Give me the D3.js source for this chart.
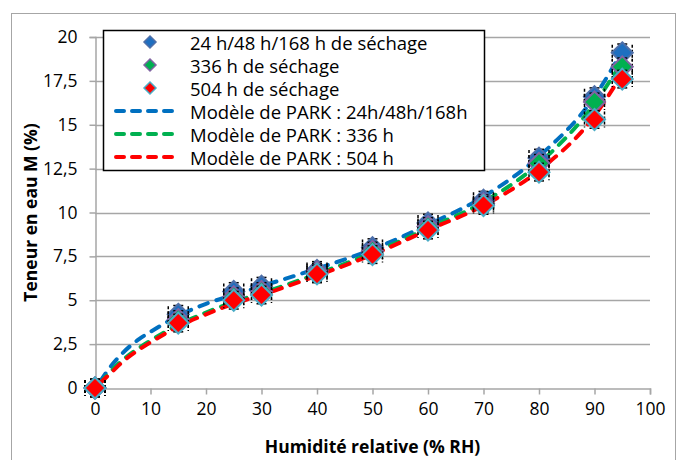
<!DOCTYPE html>
<html>
<head>
<meta charset="utf-8">
<script src="https://cdn.jsdelivr.net/npm/d3@7"></script>
<style>
	body { margin: 0; background: #fff; }
	text { font-family: "Open Sans", "Noto Sans", sans-serif; fill: #000; }
</style>
</head>
<body>
<svg id="chart" width="680" height="460"></svg>
<script>
// mesures (humidité relative / teneur en eau)
const rh = [0, 15, 25, 30, 40, 50, 60, 70, 80, 90, 95];
const m24 = [0, 4.2, 5.5, 5.8, 6.7, 8.0, 9.4, 10.7, 13.1, 16.6, 19.1];
const m336 = [0, 3.9, 5.2, 5.5, 6.6, 7.8, 9.2, 10.5, 12.8, 16.3, 18.3];
const m504 = [0, 3.7, 5.0, 5.3, 6.5, 7.6, 9.0, 10.4, 12.3, 15.3, 17.6];
const errM = 0.5;
const errRH = 1.8;

// courbes du modèle de PARK
const rhModel = [1, 3, 5, 8, 10, 15, 20, 25, 30, 40, 50, 60, 70, 80, 90, 95];
const park24 = [0.4, 1.3, 2.0, 2.8, 3.2, 4.1, 4.8, 5.3, 5.8, 6.8, 7.9, 9.3, 10.9, 13.2, 16.6, 19.2];
const park336 = [0.3, 1.0, 1.6, 2.3, 2.7, 3.6, 4.3, 4.9, 5.4, 6.5, 7.7, 9.1, 10.6, 12.8, 16.2, 18.6];
const park504 = [0.3, 0.9, 1.5, 2.2, 2.6, 3.5, 4.2, 4.8, 5.3, 6.4, 7.6, 9.0, 10.4, 12.4, 15.5, 17.9];

const xTicks = [0, 10, 20, 30, 40, 50, 60, 70, 80, 90, 100];
const yTicks = [0, 2.5, 5, 7.5, 10, 12.5, 15, 17.5, 20];

const svg = d3.select("svg#chart");
const margin = { top: 37, right: 25, bottom: 72, left: 95 };
const width = 680;
const height = 460;

// cadre extérieur
svg.append("rect")
	.attr("x", 11.5)
	.attr("y", 13.5)
	.attr("width", 664)
	.attr("height", 450)
	.attr("fill", "#fff")
	.attr("stroke", "#a6a6a6")
	.attr("stroke-width", 1);

const x = d3.scaleLinear().domain([0, 100]).range([margin.left, width - margin.right - 5]);
const y = d3.scaleLinear().domain([0, 20]).range([height - margin.bottom, margin.top]);

// grille horizontale
svg.append("g")
	.selectAll("line")
	.data(yTicks.slice(1))
	.join("line")
	.attr("x1", x(0))
	.attr("x2", x(100))
	.attr("y1", (d) => Math.round(y(d)) + 0.5)
	.attr("y2", (d) => Math.round(y(d)) + 0.5)
	.style("stroke", "#a6a6a6")
	.style("stroke-width", 1.5);

// axe X
const xAxis = svg.append("g")
	.attr("transform", `translate(0,${Math.round(y(0)) + 0.5})`)
	.call(d3.axisBottom(x).tickValues(xTicks).tickSize(6).tickPadding(8).tickFormat(d3.format("d")));
xAxis.select(".domain").attr("stroke", "#a6a6a6").attr("stroke-width", 1.5);
xAxis.selectAll(".tick line").attr("stroke", "#a6a6a6").attr("stroke-width", 1.5);
xAxis.selectAll("text").style("font-size", "17.5px");

// axe Y
const yAxis = svg.append("g")
	.attr("transform", `translate(${Math.round(x(0)) + 0.5},0)`)
	.call(d3.axisLeft(y).tickValues(yTicks).tickSize(6).tickPadding(12)
		.tickFormat((d) => String(d).replace(".", ",")));
yAxis.select(".domain").attr("stroke", "#a6a6a6").attr("stroke-width", 1.5);
yAxis.selectAll(".tick line").attr("stroke", "#a6a6a6").attr("stroke-width", 1.5);
yAxis.selectAll("text").style("font-size", "17.5px");

// titres des axes
svg.append("text")
	.attr("x", x(50))
	.attr("y", 453)
	.attr("text-anchor", "middle")
	.style("font-size", "17.5px")
	.style("font-weight", "bold")
	.text("Humidité relative (% RH)");

svg.append("text")
	.attr("transform", `translate(37,${y(10)}) rotate(-90)`)
	.attr("text-anchor", "middle")
	.style("font-size", "17.5px")
	.style("font-weight", "bold")
	.text("Teneur en eau M (%)");

// courbes du modèle
const line = d3.line()
	.x((d) => x(d[0]))
	.y((d) => y(d[1]))
	.curve(d3.curveMonotoneX);

const models = [
	{ vals: park24, color: "#0070c0" },
	{ vals: park336, color: "#00b050" },
	{ vals: park504, color: "#ff0000" },
];
models.forEach(function (mod) {
	svg.append("path")
		.attr("d", line(rhModel.map((r, i) => [r, mod.vals[i]])))
		.attr("fill", "none")
		.style("stroke", mod.color)
		.style("stroke-width", 4)
		.style("stroke-linecap", "round")
		.style("stroke-dasharray", "9,9");
});

// points de mesure + barres d'erreur
const series = [
	{ vals: m24, fill: "#1f6fc0", stroke: "#4f6fa8" },
	{ vals: m336, fill: "#00b050", stroke: "#8064a2" },
	{ vals: m504, fill: "#ff0000", stroke: "#4bacc6" },
];
const diamond = (cx, cy, r) => `M${cx},${cy - r}L${cx + r},${cy}L${cx},${cy + r}L${cx - r},${cy}Z`;

series.forEach(function (s) {
	const g = svg.append("g");
	rh.forEach(function (r, i) {
		const cx = x(r);
		const cy = y(s.vals[i]);
		const y1 = y(s.vals[i] + errM);
		const y2 = y(s.vals[i] - errM);
		const x1 = x(r - errRH);
		const x2 = x(r + errRH);
		g.append("line").attr("x1", cx).attr("x2", cx).attr("y1", y1).attr("y2", y2)
			.style("stroke", "#000").style("stroke-width", 1.5);
		g.append("line").attr("x1", cx - 5).attr("x2", cx + 5).attr("y1", y1).attr("y2", y1)
			.style("stroke", "#000").style("stroke-width", 1.5);
		g.append("line").attr("x1", cx - 5).attr("x2", cx + 5).attr("y1", y2).attr("y2", y2)
			.style("stroke", "#000").style("stroke-width", 1.5);
		g.append("line").attr("x1", x1).attr("x2", x2).attr("y1", cy).attr("y2", cy)
			.style("stroke", "#000").style("stroke-width", 1.5);
		g.append("line").attr("x1", x1).attr("x2", x1).attr("y1", cy - 8).attr("y2", cy + 8)
			.style("stroke", "#000").style("stroke-width", 1.5).style("stroke-dasharray", "3,2");
		g.append("line").attr("x1", x2).attr("x2", x2).attr("y1", cy - 8).attr("y2", cy + 8)
			.style("stroke", "#000").style("stroke-width", 1.5).style("stroke-dasharray", "3,2");
	});
	g.selectAll("path")
		.data(rh)
		.join("path")
		.attr("d", (r, i) => diamond(x(r), y(s.vals[i]), 10.5))
		.attr("fill", s.fill)
		.style("stroke", s.stroke)
		.style("stroke-width", 2);
});

// légende
const legendLabels = [
	"24 h/48 h/168 h de séchage",
	"336 h de séchage",
	"504 h de séchage",
	"Modèle de PARK : 24h/48h/168h",
	"Modèle de PARK : 336 h",
	"Modèle de PARK : 504 h",
];
const legend = svg.append("g").attr("id", "legend");
legend.append("rect")
	.attr("x", 103.5)
	.attr("y", 30.5)
	.attr("width", 381)
	.attr("height", 140)
	.attr("fill", "#fff")
	.style("stroke", "#000")
	.style("stroke-width", 1.5);

let yCounter = 42;
legendLabels.forEach(function (lab, i) {
	if (i < 3) {
		legend.append("path")
			.attr("d", diamond(150, yCounter, 6))
			.attr("fill", series[i].fill)
			.style("stroke", series[i].stroke)
			.style("stroke-width", 1.5);
	} else {
		legend.append("line")
			.attr("x1", 116)
			.attr("x2", 180)
			.attr("y1", yCounter)
			.attr("y2", yCounter)
			.style("stroke", models[i - 3].color)
			.style("stroke-width", 4)
			.style("stroke-linecap", "round")
			.style("stroke-dasharray", "8,8");
	}
	legend.append("text")
		.attr("x", 190)
		.attr("y", yCounter)
		.attr("dominant-baseline", "central")
		.style("font-size", "18.5px")
		.text(lab);
	yCounter += 23;
});
</script>
</body>
</html>
